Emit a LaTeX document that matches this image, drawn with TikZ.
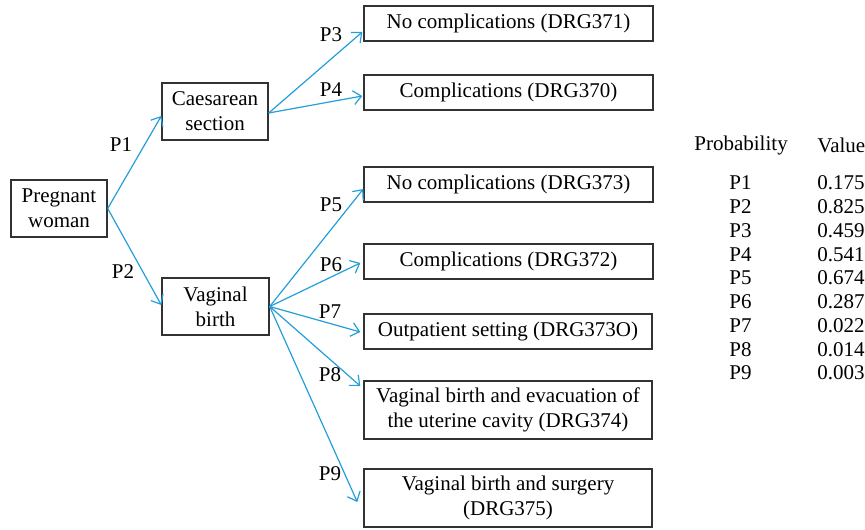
\documentclass[tikz,border=0pt]{standalone}
\usepackage{fontspec}
\setmainfont{Liberation Serif}
\usetikzlibrary{arrows.meta,calc}
\definecolor{arrowblue}{RGB}{35,158,218}
\definecolor{boxgray}{RGB}{50,50,50}
\tikzset{
  box/.style={draw=boxgray,line width=0.7pt,rectangle,inner sep=0pt,align=center,
    font=\fontsize{10.5}{12.5}\selectfont},
  lbl/.style={inner sep=0pt,font=\fontsize{10.5}{12.5}\selectfont},
  conn/.style={draw=arrowblue,line width=0.6pt,-{Straight Barb[length=4pt,width=7pt]}}
}
\begin{document}
\begin{tikzpicture}[x=0.5pt,y=-0.5pt]
\useasboundingbox (0,0) rectangle (865,529);
% boxes
\node[box,minimum width=48pt,minimum height=28.5pt] (pw) at (59,208.5) {Pregnant\\woman};
\node[box,minimum width=53pt,minimum height=28.5pt] (cs) at (215,111.5) {Caesarean\\section};
\node[box,minimum width=53.5pt,minimum height=28.5pt] (vb) at (215.5,306.5) {Vaginal\\birth};
\node[box,minimum width=144.5pt,minimum height=17.5pt] (n371) at (508.5,23.5) {No complications (DRG371)};
\node[box,minimum width=144.5pt,minimum height=17.5pt] (c370) at (508.5,92.5) {Complications (DRG370)};
\node[box,minimum width=144.5pt,minimum height=17.5pt] (n373) at (508.5,184.5) {No complications (DRG373)};
\node[box,minimum width=144.5pt,minimum height=17.5pt] (c372) at (508.5,261.5) {Complications (DRG372)};
\node[box,minimum width=144pt,minimum height=17.5pt] (out) at (508,331.5) {Outpatient setting (DRG373O)};
\node[box,minimum width=144pt,minimum height=29pt] (evac) at (508,410) {Vaginal birth and evacuation of\\the uterine cavity (DRG374)};
\node[box,minimum width=144pt,minimum height=29pt] (surg) at (508,498) {Vaginal birth and surgery\\(DRG375)};
% connectors
\draw[conn] (pw.east) -- ($(cs.west)+(0,4.5)$);
\draw[conn] (pw.east) -- ($(vb.west)+(0,-1.5)$);
\draw[conn] ($(cs.east)+(0,1.5)$) -- ($(n371.west)+(-1,8.5)$);
\draw[conn] ($(cs.east)+(0,1.5)$) -- ($(c370.west)+(-1,3.5)$);
\draw[conn] (vb.east) -- ($(n373.west)+(0,4.5)$);
\draw[conn] (vb.east) -- ($(c372.west)+(-3,1.5)$);
\draw[conn] (vb.east) -- ($(out.west)+(-3,0.5)$);
\draw[conn] (vb.east) -- ($(evac.west)+(-3,-24)$);
\draw[conn] (vb.east) -- ($(surg.west)+(-6,4)$);
% labels
\node[lbl] (l1) at (121,145) {P1};
\node[lbl] (l2) at (123,272) {P2};
\node[lbl] (l3) at (331,35) {P3};
\node[lbl] (l4) at (331,90) {P4};
\node[lbl] (l5) at (331,205) {P5};
\node[lbl] (l6) at (331,265) {P6};
\node[lbl] (l7) at (330,312) {P7};
\node[lbl] (l8) at (330,375) {P8};
\node[lbl] (l9) at (330,474) {P9};
% table
\node[lbl,anchor=west] (hp) at (694,145) {Probability};
\node[lbl,anchor=west] (hv) at (817,145) {Value};
\foreach \p/\v [count=\i from 0] in {P1/0.175,P2/0.825,P3/0.459,P4/0.541,P5/0.674,P6/0.287,P7/0.022,P8/0.014,P9/0.003}{
  \node[lbl,anchor=west] (tp\i) at (729,183+23.75*\i) {\p};
  \node[lbl,anchor=west] (tv\i) at (817,183+23.75*\i) {\v};
}
\end{tikzpicture}
\end{document}
